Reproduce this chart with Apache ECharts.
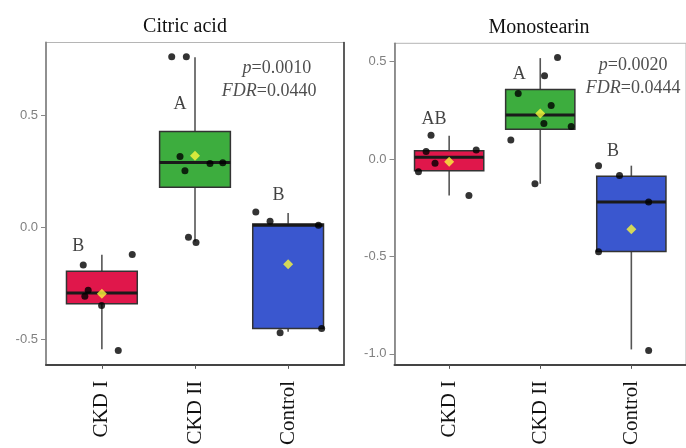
<!DOCTYPE html>
<html>
<head>
<meta charset="utf-8">
<script src="https://cdn.jsdelivr.net/npm/echarts@6/dist/echarts.min.js"></script>
<style>
  html, body { margin: 0; padding: 0; background: #fff; }
  #chart { width: 686px; height: 448px; }
</style>
</head>
<body>
<div id="chart"></div>
<script>
const categories = ["CKD I", "CKD II", "Control"];
const groupColors = ["#E0174B", "#3DAD3E", "#3A57CF"];

// Citric acid: [x, lower whisker, Q1, median, Q3, upper whisker]
const citricBox = [
  [1, -0.544, -0.341, -0.293, -0.196, -0.122],
  [2, -0.063, 0.179, 0.289, 0.427, 0.758],
  [3, -0.466, -0.451, 0.009, 0.015, 0.064],
];
const citricPoints = [
  [0.80, -0.168], [0.853, -0.281], [0.817, -0.307], [0.997, -0.348], [1.176, -0.549], [1.326, -0.121],
  [1.75, 0.760], [1.907, 0.760], [1.839, 0.316], [1.892, 0.252], [2.161, 0.285], [2.298, 0.288], [1.93, -0.044], [2.011, -0.068],
  [2.653, 0.068], [2.806, 0.027], [3.326, 0.009], [2.914, -0.470], [3.36, -0.451],
];
const citricMeans = [[1, -0.296], [2, 0.319], [3, -0.165]];
const citricLetters = [[0.745, -0.085, "B"], [1.839, 0.548, "A"], [2.896, 0.145, "B"]];
const citricStats = [[2.88, 0.707, "p", "=0.0010"], [2.796, 0.605, "FDR", "=0.0440"]];

// Monostearin
const monoBox = [
  [1, -0.187, -0.060, 0.009, 0.042, 0.119],
  [2, -0.127, 0.153, 0.226, 0.357, 0.518],
  [3, -0.977, -0.474, -0.221, -0.088, -0.034],
];
const monoPoints = [
  [0.801, 0.122], [0.747, 0.039], [0.663, -0.065], [0.845, -0.022], [1.297, 0.046], [1.217, -0.187],
  [2.19, 0.521], [2.047, 0.428], [1.758, 0.336], [2.12, 0.275], [2.04, 0.183], [2.34, 0.167], [1.677, 0.098], [1.942, -0.127],
  [2.64, -0.034], [2.87, -0.085], [3.19, -0.221], [2.64, -0.476], [3.19, -0.982],
];
const monoMeans = [[1, -0.014], [2, 0.234], [3, -0.360]];
const monoLetters = [[0.834, 0.204, "AB"], [1.77, 0.433, "A"], [2.8, 0.042, "B"]];
const monoStats = [[3.02, 0.479, "p", "=0.0020"], [3.02, 0.362, "FDR", "=0.0444"]];

const citricTicks = [-0.5, 0, 0.5];
const monoTicks = [-1, -0.5, 0, 0.5];

const BOX_WIDTH = 0.76;
const SERIF = "Liberation Serif";
const SANS = "Liberation Sans";

function boxRenderer(params, api) {
  const x = api.value(0);
  const half = api.size([BOX_WIDTH, 0])[0] / 2;
  const lo = api.coord([x, api.value(1)]);
  const q1 = api.coord([x, api.value(2)]);
  const med = api.coord([x, api.value(3)]);
  const q3 = api.coord([x, api.value(4)]);
  const hi = api.coord([x, api.value(5)]);
  return {
    type: "group",
    children: [
      {
        type: "line",
        shape: { x1: lo[0], y1: lo[1], x2: hi[0], y2: hi[1] },
        style: { stroke: "#555", lineWidth: 1.6 },
      },
      {
        type: "rect",
        shape: { x: q3[0] - half, y: q3[1], width: half * 2, height: q1[1] - q3[1] },
        style: { fill: groupColors[params.dataIndex], stroke: "#333", lineWidth: 1.5 },
      },
      {
        type: "line",
        shape: { x1: med[0] - half, y1: med[1], x2: med[0] + half, y2: med[1] },
        style: { stroke: "#1a1a1a", lineWidth: 3 },
      },
    ],
  };
}

function panelSeries(index, box, points, means, letters, stats) {
  return [
    {
      type: "custom",
      xAxisIndex: index,
      yAxisIndex: index * 2,
      renderItem: boxRenderer,
      encode: { x: 0, y: [1, 2, 3, 4, 5] },
      data: box,
      z: 2,
    },
    {
      type: "scatter",
      xAxisIndex: index,
      yAxisIndex: index * 2,
      data: points,
      symbolSize: 7,
      itemStyle: { color: "#000" },
      z: 3,
    },
    {
      type: "scatter",
      xAxisIndex: index,
      yAxisIndex: index * 2,
      data: means,
      symbol: "diamond",
      symbolSize: 10,
      itemStyle: { color: "#FAF73C" },
      z: 4,
    },
    {
      type: "scatter",
      xAxisIndex: index,
      yAxisIndex: index * 2,
      data: letters.map((d) => ({ value: [d[0], d[1]], name: d[2] })),
      symbolSize: 0,
      label: {
        show: true,
        position: "inside",
        formatter: (p) => p.name,
        fontFamily: SERIF,
        fontSize: 18,
        color: "#111",
      },
      z: 5,
    },
    {
      type: "scatter",
      xAxisIndex: index,
      yAxisIndex: index * 2,
      data: stats.map((d) => ({ value: [d[0], d[1]], name: d[2] + "|" + d[3] })),
      symbolSize: 0,
      label: {
        show: true,
        position: "inside",
        formatter: (p) => {
          const [head, tail] = p.name.split("|");
          return `{i|${head}}{n|${tail}}`;
        },
        rich: {
          i: { fontFamily: SERIF, fontStyle: "italic", fontSize: 18, color: "#222" },
          n: { fontFamily: SERIF, fontSize: 18, color: "#222" },
        },
      },
      z: 5,
    },
  ];
}

function xAxisFor(gridIndex) {
  return {
    type: "value",
    gridIndex,
    min: 0.4,
    max: 3.6,
    axisLine: { show: true, onZero: false, lineStyle: { color: "#444", width: 2 } },
    axisTick: { show: true, customValues: [1, 2, 3], length: 4, lineStyle: { color: "#555" } },
    axisLabel: {
      customValues: [1, 2, 3],
      formatter: (v) => categories[Math.round(v) - 1],
      rotate: 90,
      margin: 16,
      fontFamily: SERIF,
      fontSize: 21,
      color: "#111",
    },
    splitLine: { show: false },
  };
}

function yAxesFor(gridIndex, min, max, ticks, showRight) {
  return [
    {
      type: "value",
      gridIndex,
      min,
      max,
      axisLine: { show: true, onZero: false, lineStyle: { color: "#888", width: 1.8 } },
      axisTick: { show: true, customValues: ticks, length: 5, lineStyle: { color: "#888" } },
      axisLabel: {
        customValues: ticks,
        formatter: (v) => v.toFixed(1),
        margin: 8,
        fontFamily: SANS,
        fontSize: 13,
        color: "#808080",
      },
      splitLine: { show: false },
    },
    {
      type: "value",
      gridIndex,
      position: "right",
      min,
      max,
      axisLine: { show: showRight, onZero: false, lineStyle: { color: "#333", width: 1.5 } },
      axisTick: { show: false },
      axisLabel: { show: false },
      splitLine: { show: false },
    },
  ];
}

const chart = echarts.init(document.getElementById("chart"), undefined, { renderer: "canvas" });
chart.setOption({
  animation: false,
  backgroundColor: "#fff",
  title: [
    {
      text: "Citric acid",
      left: 180,
      top: 12,
      textAlign: "center",
      textStyle: { fontFamily: SERIF, fontSize: 20, fontWeight: "normal", color: "#111" },
    },
    {
      text: "Monostearin",
      left: 534,
      top: 13,
      textAlign: "center",
      textStyle: { fontFamily: SERIF, fontSize: 20, fontWeight: "normal", color: "#111" },
    },
  ],
  grid: [
    { left: 46, top: 42.5, width: 298, height: 325, show: true, borderColor: "#b5b5b5", borderWidth: 1 },
    { left: 394.5, top: 43.3, width: 294, height: 324, show: true, borderColor: "#b5b5b5", borderWidth: 1 },
  ],
  xAxis: [xAxisFor(0), xAxisFor(1)],
  yAxis: [
    ...yAxesFor(0, -0.613, 0.824, citricTicks, true),
    ...yAxesFor(1, -1.056, 0.594, monoTicks, false),
  ],
  series: [
    ...panelSeries(0, citricBox, citricPoints, citricMeans, citricLetters, citricStats),
    ...panelSeries(1, monoBox, monoPoints, monoMeans, monoLetters, monoStats),
  ],
});
</script>
</body>
</html>
